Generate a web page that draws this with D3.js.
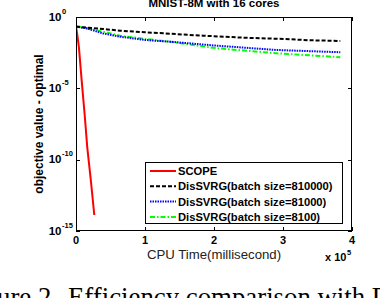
<!DOCTYPE html>
<html>
<head>
<meta charset="utf-8">
<script src="https://cdn.jsdelivr.net/npm/d3@7"></script>
<style>
  body { margin: 0; background: #fff; }
</style>
</head>
<body>
<svg width="380" height="298" font-family="Liberation Sans, Arial, sans-serif"></svg>
<script>
// CPU time in thousands of ms, objective gap as log10
var scopeT = [0, 1.9, 4.3, 8.3, 12.6, 16.4, 21.7, 26.5];
var scopeV = [-0.68, -1.26, -2.17, -4.5, -6.87, -9.18, -11.54, -13.88];

var dis810000T = [0, 39.6, 63.8, 100, 136, 184, 242, 301, 339, 383];
var dis810000V = [-0.68, -0.84, -0.96, -1.07, -1.17, -1.31, -1.45, -1.54, -1.63, -1.68];

var dis81000T = [0, 15, 39, 64, 100, 136, 204, 290, 383];
var dis81000V = [-0.68, -0.79, -1.15, -1.38, -1.61, -1.73, -2.01, -2.31, -2.47];

var dis8100T = [0, 39, 64, 100, 136, 204, 290, 383];
var dis8100V = [-0.63, -1.03, -1.31, -1.54, -1.73, -2.19, -2.54, -2.82];

var xTicks = [0, 1, 2, 3, 4];
var yTicks = [0, -5, -10, -15];
var seriesNames = ["SCOPE", "DisSVRG(batch size=810000)", "DisSVRG(batch size=81000)", "DisSVRG(batch size=8100)"];

var series = [
  { name: seriesNames[0], t: scopeT, v: scopeV, color: "#ff0000", dash: null },
  { name: seriesNames[1], t: dis810000T, v: dis810000V, color: "#000000", dash: "4,2" },
  { name: seriesNames[2], t: dis81000T, v: dis81000V, color: "#0000ff", dash: "1.5,1" },
  { name: seriesNames[3], t: dis8100T, v: dis8100V, color: "#00ff00", dash: "5,2,1.5,2" }
];

var svg = d3.select("svg");
var pL = 76, pR = 352, pT = 17, pB = 231;

var x = d3.scaleLinear().domain([0, 4]).range([pL, pR]);
var y = d3.scaleLinear().domain([0, -15]).range([pT, pB]);

// ticks inside the box, on all four sides
var tl = 4;
var g = svg.append("g").attr("stroke", "#000").attr("stroke-width", 1);
xTicks.forEach(function(t) {
  var px = Math.round(x(t)) + 0.5;
  g.append("line").attr("x1", px).attr("x2", px).attr("y1", pB).attr("y2", pB - tl);
  g.append("line").attr("x1", px).attr("x2", px).attr("y1", pT).attr("y2", pT + tl);
});
yTicks.forEach(function(t) {
  var py = Math.round(y(t)) + 0.5;
  g.append("line").attr("x1", pL).attr("x2", pL + tl).attr("y1", py).attr("y2", py);
  g.append("line").attr("x1", pR).attr("x2", pR - tl).attr("y1", py).attr("y2", py);
});

var line = d3.line()
  .x(function(d) { return x(d[0] / 100); })
  .y(function(d) { return y(d[1]); });

svg.append("clipPath").attr("id", "clip")
  .append("rect").attr("x", pL).attr("y", pT).attr("width", pR - pL).attr("height", pB - pT);

var lines = svg.append("g").attr("clip-path", "url(#clip)");
series.slice().reverse().forEach(function(s) {
  lines.append("path")
    .datum(d3.zip(s.t, s.v))
    .attr("fill", "none")
    .attr("stroke", s.color)
    .attr("stroke-width", 2)
    .attr("stroke-dasharray", s.dash)
    .attr("d", line);
});

svg.append("rect")
  .attr("x", pL + 0.5).attr("y", pT + 0.5)
  .attr("width", pR - pL - 1).attr("height", pB - pT - 1)
  .attr("fill", "none").attr("stroke", "#000").attr("stroke-width", 1);

// tick labels
xTicks.forEach(function(t) {
  svg.append("text")
    .attr("x", x(t)).attr("y", pB + 13)
    .attr("text-anchor", "middle")
    .attr("font-size", 11).attr("font-weight", "bold")
    .text(t);
});
yTicks.forEach(function(t) {
  svg.append("text")
    .attr("x", 61.5).attr("y", y(t) + 3.5)
    .attr("text-anchor", "end")
    .attr("font-size", 11.5).attr("font-weight", "bold")
    .text("10");
  svg.append("text")
    .attr("x", 62).attr("y", y(t) - 3.5)
    .attr("font-size", 7.5).attr("font-weight", "bold")
    .text(t);
});

// exponent note
svg.append("text").attr("x", 325).attr("y", 261)
  .attr("font-size", 11).attr("font-weight", "bold").text("x 10");
svg.append("text").attr("x", 347).attr("y", 255)
  .attr("font-size", 7.5).attr("font-weight", "bold").text("5");

// axis titles
svg.append("text")
  .attr("x", 214).attr("y", 259)
  .attr("text-anchor", "middle")
  .attr("font-size", 13.2).attr("fill", "#222")
  .text("CPU Time(millisecond)");

svg.append("text")
  .attr("transform", "translate(43,124) rotate(-90)")
  .attr("text-anchor", "middle")
  .attr("font-size", 12).attr("font-weight", "bold")
  .text("objective value - optimal");

svg.append("text")
  .attr("x", 214).attr("y", 7)
  .attr("text-anchor", "middle")
  .attr("font-size", 11.5).attr("font-weight", "bold")
  .text("MNIST-8M with 16 cores");

// legend
var lg = svg.append("g");
lg.append("rect")
  .attr("x", 145.5).attr("y", 162.5).attr("width", 197).attr("height", 61)
  .attr("fill", "#fff").attr("stroke", "#000").attr("stroke-width", 1);
series.forEach(function(s, i) {
  var ly = 171 + i * 15.3;
  lg.append("line")
    .attr("x1", 150).attr("x2", 176).attr("y1", ly).attr("y2", ly)
    .attr("stroke", s.color).attr("stroke-width", 2)
    .attr("stroke-dasharray", s.dash);
  lg.append("text")
    .attr("x", 178).attr("y", ly + 4)
    .attr("font-size", 11.2).attr("font-weight", "bold")
    .text(s.name);
});

// caption fragment below the figure
svg.append("text")
  .attr("x", 68).attr("y", 306)
  .attr("font-family", "Liberation Serif, serif")
  .attr("font-size", 26.8)
  .text("Efficiency comparison with DisSVRG");
svg.append("text")
  .attr("x", 58).attr("y", 306)
  .attr("font-family", "Liberation Serif, serif")
  .attr("font-size", 26.8)
  .attr("text-anchor", "end")
  .text("Figure 2.");
</script>
</body>
</html>
